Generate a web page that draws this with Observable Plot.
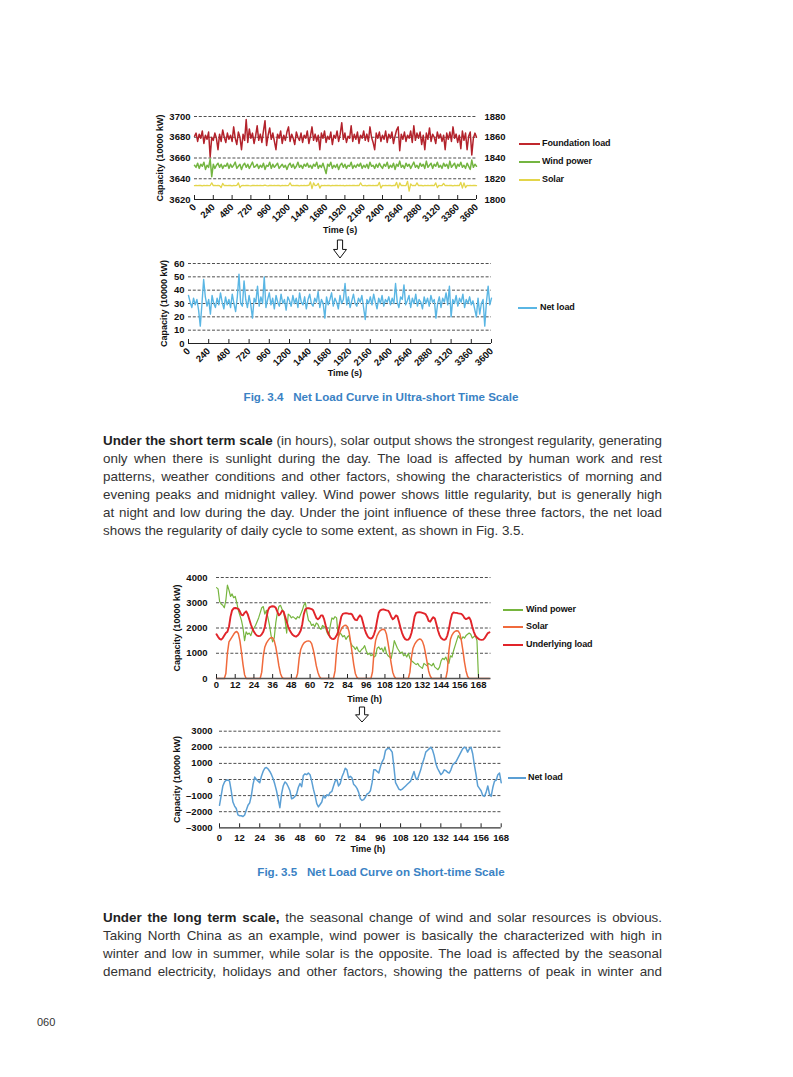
<!DOCTYPE html>
<html><head><meta charset="utf-8">
<script src="https://cdn.jsdelivr.net/npm/d3@7"></script>
<script src="https://cdn.jsdelivr.net/npm/@observablehq/plot@0.6"></script>
<style>
body{margin:0;background:#fff;}
#page{position:relative;width:793px;height:1077px;overflow:hidden;background:#fff;font-family:"Liberation Sans",Arial,sans-serif;}
.abs{position:absolute;}
.para{position:absolute;left:103px;width:559px;font-size:13.4px;color:#333;line-height:18px;}
.para div{text-align:justify;text-align-last:justify;height:18px;}
.para div.last{text-align-last:left;}
.para b{font-weight:bold;color:#222;}
.cap{position:absolute;left:181px;width:400px;text-align:center;font-size:11.6px;font-weight:bold;color:#3a82c4;white-space:nowrap;}
.leg{position:absolute;font-size:9px;font-weight:bold;color:#111;white-space:nowrap;letter-spacing:-0.1px;}
.legline{position:absolute;}
</style></head>
<body><div id="page"></div>
<script>
// ---------------- DATA ----------------
// Fig 3.4 (ultra-short, 20 s sampling)
const secTicks = [0,240,480,720,960,1200,1440,1680,1920,2160,2400,2640,2880,3120,3360,3600];
const leftTicksU = [3620,3640,3660,3680,3700];
const rightTicksU = [1800,1820,1840,1860,1880];
const netTicksU = [0,10,20,30,40,50,60];
const foundationLoad = [
3681,3684,3676,3683,3679,3686,3674,3682,3678,3685,3661,3680,3677,3684,3679,3668,3683,3676,3687,3680,
3675,3684,3678,3682,3676,3690,3679,3673,3685,3680,3668,3683,3677,3697,3675,3688,3679,3684,3674,3681,
3691,3677,3683,3675,3686,3696,3672,3682,3689,3678,3684,3676,3668,3683,3679,3686,3674,3682,3677,3685,
3690,3676,3683,3679,3673,3685,3680,3677,3684,3675,3682,3679,3686,3674,3681,3690,3677,3683,3676,3682,
3668,3684,3679,3686,3675,3681,3678,3685,3673,3682,3679,3686,3676,3683,3694,3678,3684,3675,3681,3679,
3691,3676,3683,3678,3685,3674,3682,3679,3686,3677,3683,3676,3690,3680,3675,3668,3684,3679,3685,3676,
3682,3678,3686,3675,3683,3679,3685,3674,3681,3687,3690,3667,3683,3678,3685,3676,3682,3679,3686,3675,
3691,3677,3684,3679,3685,3673,3682,3668,3684,3678,3689,3676,3683,3680,3674,3685,3679,3683,3676,3682,
3668,3684,3678,3685,3676,3690,3679,3683,3675,3682,3669,3686,3677,3684,3668,3681,3685,3663,3679,3684,3680];
const windPowerU = [ // right axis
1833,1831,1835,1830,1834,1832,1836,1829,1833,1831,1839,1822,1834,1830,1833,1835,1831,1834,1830,1833,
1832,1835,1830,1834,1831,1833,1836,1830,1832,1834,1829,1833,1835,1831,1834,1830,1833,1836,1831,1832,
1834,1830,1833,1831,1835,1829,1833,1832,1836,1830,1834,1831,1833,1835,1830,1832,1834,1831,1833,1829,
1833,1835,1831,1834,1830,1832,1836,1831,1833,1830,1834,1832,1835,1831,1833,1830,1834,1832,1836,1830,
1833,1831,1835,1830,1825,1834,1832,1836,1830,1833,1831,1834,1829,1833,1835,1831,1834,1830,1833,1832,
1836,1830,1833,1831,1834,1832,1835,1830,1833,1831,1834,1830,1836,1832,1833,1830,1834,1831,1835,1832,
1830,1834,1832,1836,1830,1833,1831,1835,1829,1834,1832,1837,1831,1833,1830,1835,1832,1834,1830,1833,
1836,1831,1833,1830,1835,1832,1834,1830,1837,1831,1833,1835,1830,1834,1832,1836,1831,1833,1830,1835,
1832,1834,1830,1837,1831,1833,1835,1830,1834,1832,1836,1831,1833,1830,1835,1832,1829,1838,1831,1834,1832];
const solarU = [ // right axis
1813.4,1813.7,1813.3,1813.6,1813.5,1813.2,1813.7,1813.4,1813.6,1813.3,1813.5,1816,1813.4,1813.6,1813.3,1813.7,1813.4,1811.5,1815.5,1813.4,
1813.6,1813.3,1813.7,1813.5,1813.2,1813.6,1813.4,1813.7,1816,1811.5,1813.4,1813.6,1813.3,1813.5,1813.7,1813.4,1813.2,1813.6,1813.5,1813.3,
1813.7,1813.4,1813.6,1813.3,1813.5,1813.8,1813.4,1813.2,1813.6,1813.5,1813.3,1813.7,1813.4,1813.6,1813.5,1813.2,1813.7,1813.4,1813.6,1813.3,
1813.5,1816,1813.3,1813.6,1813.4,1813.7,1813.5,1813.2,1813.6,1813.4,1813.7,1813.3,1813.5,1813.6,1817,1810.5,1816,1813.4,1813.6,1815.5,
1811,1813.6,1813.4,1813.7,1813.3,1813.5,1813.6,1813.2,1813.7,1813.4,1813.5,1813.6,1813.3,1813.7,1813.4,1813.5,1813.2,1813.6,1813.4,1813.7,
1813.3,1813.5,1813.6,1813.4,1813.7,1813.3,1816,1813.5,1813.4,1813.6,1813.2,1813.7,1813.5,1813.3,1813.6,1813.4,1813.7,1813.5,1816.5,1811,
1813.6,1813.4,1813.7,1813.3,1813.5,1813.6,1813.2,1813.7,1813.4,1816.5,1811,1816,1813.4,1813.6,1813.3,1813.5,1817.5,1808,1815,1813.4,
1813.6,1813.3,1816,1813.4,1813.7,1813.5,1813.2,1813.6,1813.4,1813.7,1813.3,1813.5,1813.6,1813.4,1816,1811.5,1813.6,1813.3,1813.5,1815.5,
1813.4,1813.6,1813.3,1813.7,1813.5,1813.2,1813.6,1813.4,1813.7,1813.3,1816.5,1811,1816,1811.5,1813.6,1813.4,1813.7,1813.3,1813.5,1813.6,1813.4];
const netLoadU = [
36,31,27,34,29,33,25,13,30,48,35,28,33,22,36,30,27,34,29,38,
31,26,35,29,33,27,37,30,24,35,52,30,28,47,33,27,36,29,19,34,
31,43,28,35,30,50,27,33,38,29,34,26,36,31,28,37,30,33,25,35,
32,28,36,30,34,27,38,31,29,35,26,33,37,30,28,34,31,39,27,33,
30,19,35,29,33,38,28,34,31,26,36,30,33,45,29,35,27,32,37,30,
28,34,31,36,27,18,33,30,35,29,37,31,26,34,30,36,28,33,31,35,
29,34,30,45,31,27,35,33,44,29,32,36,27,34,30,37,28,33,31,26,
35,30,34,28,36,31,33,19,30,35,27,34,31,38,29,43,20,33,30,36,
28,34,31,37,27,33,30,35,29,32,26,20,34,22,30,33,13,31,43,29,34];

// Fig 3.5 (short-term, hourly)
const hourTicks = [0,12,24,36,48,60,72,84,96,108,120,132,144,156,168];
const capTicksS = [0,1000,2000,3000,4000];
const netTicksS = [-3000,-2000,-1000,0,1000,2000,3000];
const underlyingLoad = [
1750,1650,1570,1540,1600,1700,1800,1850,2050,2450,2700,2780,2790,2780,2760,2650,2520,2500,2600,2660,
2550,2350,2150,1980,1850,1760,1700,1680,1690,1750,1850,2050,2400,2700,2820,2850,2860,2850,2800,2650,
2500,2560,2680,2650,2450,2250,2050,1900,1800,1720,1680,1660,1700,1780,1900,2150,2550,2740,2780,2780,
2770,2750,2700,2550,2400,2350,2400,2500,2500,2350,2100,1900,1750,1620,1570,1560,1600,1700,1850,2150,
2450,2560,2580,2590,2580,2560,2570,2530,2400,2320,2310,2420,2500,2430,2200,1950,1780,1660,1600,1580,
1620,1750,1950,2300,2600,2700,2730,2740,2720,2700,2690,2600,2450,2350,2400,2500,2460,2250,2000,1800,
1650,1560,1530,1540,1620,1800,2100,2450,2600,2620,2630,2620,2600,2580,2550,2450,2280,2250,2350,2430,
2380,2150,1900,1720,1600,1550,1530,1560,1700,1950,2300,2550,2620,2600,2600,2580,2570,2560,2500,2400,
2350,2380,2420,2300,2050,1850,1700,1620,1570,1540,1530,1540,1600,1700,1800,1830];
const solarS = [
0,0,0,0,0,0,200,1000,1450,1550,1650,1750,1830,1860,1780,1500,1050,550,150,0,
0,0,0,0,0,0,0,0,0,250,900,1250,1400,1500,1580,1620,1610,1500,1250,900,
500,200,50,0,0,0,0,0,0,0,0,0,200,800,1150,1300,1400,1450,1480,1490,
1470,1380,1150,850,500,250,80,0,0,0,0,0,0,0,0,0,300,1100,1600,1800,
1950,2050,2100,2110,2050,1850,1450,1000,550,200,50,0,0,0,0,0,0,0,0,0,
250,1050,1500,1700,1820,1900,1940,1950,1920,1750,1400,1000,600,250,80,0,0,0,0,0,
0,0,0,0,250,850,1200,1350,1450,1520,1560,1550,1480,1300,1000,650,300,100,0,0,
0,0,0,0,0,0,0,0,300,1100,1550,1720,1820,1870,1890,1880,1780,1500,1100,650,
300,80,0,0,0,0,0,0,0,0,0,0,0,0,0,0];
const windPowerS = [
3600,3550,3050,2950,2900,2800,3100,3700,3500,3250,3350,3200,3250,3000,2700,2500,2300,2000,1500,1850,
1750,1800,1700,1900,2000,2100,2250,2400,2600,2800,2850,2550,2700,2400,2100,1700,1450,1600,2200,2600,
2850,2900,2750,2650,2300,1800,2550,2500,2400,2450,2400,2350,2450,2400,2550,2700,2900,3000,2600,2300,
2250,2100,2150,2050,2200,2150,2000,1950,2100,2050,2000,1800,1700,2100,2400,2350,2450,2400,1700,1800,
1750,1650,1700,1550,1650,1700,1400,1300,1250,1150,1250,1100,1050,1150,1200,1300,1100,950,1000,900,
950,850,900,1200,1250,1150,1200,1050,1250,1000,900,850,800,1100,1500,1350,1200,1100,1000,1050,
900,950,850,1000,800,700,650,600,550,600,500,450,400,600,550,500,600,550,500,600,
450,400,350,450,700,800,750,850,700,600,900,850,1100,1300,1500,1700,1600,1550,1650,1600,
1700,1750,1800,1750,1600,1650,1700,1500,0];
const netLoadS = [
-1600,-1000,-400,-150,-50,-30,-100,-700,-1400,-1650,-1800,-2200,-2250,-2250,-2300,-2200,-1900,-1600,-1450,-1000,
-300,150,0,-100,-200,200,500,700,750,650,500,300,50,-300,-700,-1200,-1750,-900,-400,-150,
-250,-450,-700,-1200,-1150,-1050,-900,-500,-250,-450,250,350,300,400,300,-100,-600,-1000,-1500,-1700,
-1550,-1400,-1000,-1150,-950,-1000,-800,-750,-400,-100,0,-400,-250,150,400,700,600,100,200,100,
-300,-400,-550,-800,-1200,-1300,-1250,-1100,-900,-850,-700,-200,600,600,500,400,800,1100,1300,1800,
1900,1950,1850,1700,800,-200,-400,-600,-650,-600,-500,-400,-300,-200,-100,200,500,100,0,300,
600,1000,1300,1700,1800,1900,2000,1850,1500,1000,700,500,300,400,600,550,450,400,600,900,
1000,1100,1300,1500,1700,1900,2000,1950,1700,1900,2000,1600,900,300,-400,-550,-700,-1000,-1050,-800,
-400,-900,-1050,-500,-100,-50,300,400,-200];

// ---------------- HELPERS ----------------
const FONT = "'Liberation Sans', Arial, sans-serif";
const page = document.getElementById("page");
const axisStyle = {fontFamily: FONT, fontSize: "9.5px", fontWeight: "bold", color: "#111", background: "transparent", overflow: "visible"};
const GRID = {stroke: "#222", strokeWidth: 0.8, strokeDasharray: "3,1.8"};
const fmt = d => d < 0 ? "\u2013" + Math.abs(d) : String(d);
function place(el, left, top) {
  const w = document.createElement("div");
  w.className = "abs"; w.style.left = left + "px"; w.style.top = top + "px";
  w.appendChild(el); page.appendChild(w);
}
function upTick(domain, plotPx, px) { return (domain[1] - domain[0]) / plotPx * px; }
function legend(x1, x2, xt, items) {
  for (const it of items) {
    const l = document.createElement("div");
    l.className = "legline";
    l.style.left = x1 + "px"; l.style.width = (x2 - x1) + "px";
    l.style.top = (it.y - it.w / 2) + "px"; l.style.height = it.w + "px";
    l.style.background = it.color;
    page.appendChild(l);
    const t = document.createElement("div");
    t.className = "leg"; t.textContent = it.label;
    t.style.left = xt + "px"; t.style.top = (it.y - 6) + "px";
    page.appendChild(t);
  }
}
function arrow(cx, top, bottom) {
  const ns = "http://www.w3.org/2000/svg";
  const s = document.createElementNS(ns, "svg");
  s.setAttribute("width", 16); s.setAttribute("height", bottom - top + 2);
  s.style.position = "absolute"; s.style.left = (cx - 8) + "px"; s.style.top = (top - 1) + "px";
  const h = bottom - top, hw = 6.5, sw = 2.6, headY = h * 0.55;
  const p = document.createElementNS(ns, "path");
  p.setAttribute("d", `M${8 - sw},1 L${8 + sw},1 L${8 + sw},${headY} L${8 + hw},${headY} L8,${h} L${8 - hw},${headY} L${8 - sw},${headY} Z`);
  p.setAttribute("fill", "#fff"); p.setAttribute("stroke", "#111"); p.setAttribute("stroke-width", "1");
  s.appendChild(p); page.appendChild(s);
}
const yTitle = (dx) => Plot.text(["Capacity (10000 kW)"], {frameAnchor: "left", rotate: -90, dx, textAnchor: "middle", fontSize: 9, fontWeight: "bold"});

// ---------------- FIG 3.4 top ----------------
{
  const t = d3.range(0, 3601, 20);
  const offset = leftTicksU[0] - rightTicksU[0];
  const rows = t.map((x, i) => ({t: x, found: foundationLoad[i], wind: windPowerU[i] + offset, solar: solarU[i] + offset}));
  const yd = [leftTicksU[0], leftTicksU[leftTicksU.length - 1]];
  const H = 140, mt = 16, mb = 41;
  const chart = Plot.plot({
    width: 360, height: H, marginLeft: 44, marginRight: 34, marginTop: mt, marginBottom: mb,
    style: axisStyle,
    x: {domain: [0, 3600]}, y: {domain: yd},
    marks: [
      Plot.ruleY(leftTicksU.slice(1), {...GRID, x1: 0, x2: 3600}),
      Plot.line(rows, {x: "t", y: "solar", stroke: "#e3d54a", strokeWidth: 1.3}),
      Plot.line(rows, {x: "t", y: "wind", stroke: "#74b541", strokeWidth: 1.5}),
      Plot.line(rows, {x: "t", y: "found", stroke: "#b3222b", strokeWidth: 1.5}),
      Plot.ruleY([yd[0]], {stroke: "#222", strokeWidth: 1}),
      Plot.ruleX(secTicks, {y1: yd[0], y2: yd[0] + upTick(yd, H - mt - mb, 4), stroke: "#222", strokeWidth: 1}),
      Plot.axisY(leftTicksU, {anchor: "left", tickSize: 0, tickPadding: 4, tickFormat: fmt, label: null}),
      Plot.axisY(leftTicksU, {anchor: "right", tickSize: 0, tickPadding: 8, tickFormat: d => fmt(d - offset), label: null}),
      Plot.axisX(secTicks, {anchor: "bottom", tickSize: 0, tickPadding: 6, tickRotate: -45, tickFormat: fmt, label: null}),
      Plot.text(["Time (s)"], {x: 1860, frameAnchor: "bottom", dy: 33, fontSize: 9, fontWeight: "bold"}),
      yTitle(-34)
    ]
  });
  place(chart, 150, 100);
  legend(519, 540, 542, [
    {label: "Foundation load", color: "#c0272d", w: 1.5, y: 144},
    {label: "Wind power", color: "#74b541", w: 1.5, y: 162},
    {label: "Solar", color: "#e3d54a", w: 1.5, y: 180}
  ]);
}
arrow(340, 240, 259);

// ---------------- FIG 3.4 bottom ----------------
{
  const t = d3.range(0, 3601, 20);
  const rows = t.map((x, i) => ({t: x, v: netLoadU[i]}));
  const yd = [netTicksU[0], netTicksU[netTicksU.length - 1]];
  const H = 145, mt = 18, mb = 47;
  const chart = Plot.plot({
    width: 360, height: H, marginLeft: 38, marginRight: 19, marginTop: mt, marginBottom: mb,
    style: axisStyle,
    x: {domain: [0, 3600]}, y: {domain: yd},
    marks: [
      Plot.ruleY(netTicksU.slice(1), {...GRID, x1: 0, x2: 3600}),
      Plot.line(rows, {x: "t", y: "v", stroke: "#5ab6e4", strokeWidth: 1.4}),
      Plot.ruleY([yd[0]], {stroke: "#222", strokeWidth: 1}),
      Plot.ruleX(secTicks, {y1: yd[0], y2: yd[0] + upTick(yd, H - mt - mb, 4), stroke: "#222", strokeWidth: 1}),
      Plot.axisY(netTicksU, {anchor: "left", tickSize: 0, tickPadding: 4, tickFormat: fmt, label: null}),
      Plot.axisX(secTicks, {anchor: "bottom", tickSize: 0, tickPadding: 6, tickRotate: -45, tickFormat: fmt, label: null}),
      Plot.text(["Time (s)"], {x: 1857, frameAnchor: "bottom", dy: 32, fontSize: 9, fontWeight: "bold"}),
      yTitle(-24)
    ]
  });
  place(chart, 150, 245);
  legend(518, 537, 540, [{label: "Net load", color: "#5ab6e4", w: 1.5, y: 308}]);
}

// ---------------- FIG 3.5 top ----------------
{
  const hrs = d3.range(0, underlyingLoad.length);
  const load = hrs.map(h => ({h, v: underlyingLoad[h]}));
  const sol = d3.range(0, solarS.length).map(h => ({h, v: solarS[h]}));
  const wnd = d3.range(0, windPowerS.length).map(h => ({h, v: windPowerS[h]}));
  const yd = [capTicksS[0], capTicksS[capTicksS.length - 1]];
  const H = 140, mt = 12, mb = 27;
  const xd = [0, 176];
  const chart = Plot.plot({
    width: 350, height: H, marginLeft: 66, marginRight: 9.5, marginTop: mt, marginBottom: mb,
    style: axisStyle,
    x: {domain: xd}, y: {domain: yd},
    marks: [
      Plot.ruleY(capTicksS.slice(1), {...GRID, x1: xd[0], x2: xd[1]}),
      Plot.line(wnd, {x: "h", y: "v", stroke: "#76b53e", strokeWidth: 1.2}),
      Plot.line(sol, {x: "h", y: "v", stroke: "#f06a3c", strokeWidth: 1.5}),
      Plot.line(load, {x: "h", y: "v", stroke: "#e1242a", strokeWidth: 1.9}),
      Plot.ruleY([yd[0]], {x1: xd[0], x2: xd[1], stroke: "#555", strokeWidth: 1.4}),
      Plot.ruleX(hourTicks, {y1: yd[0], y2: yd[0] + upTick(yd, H - mt - mb, 4), stroke: "#222", strokeWidth: 1}),
      Plot.axisY(capTicksS, {anchor: "left", tickSize: 0, tickPadding: 9, tickFormat: fmt, label: null}),
      Plot.axisX(hourTicks, {anchor: "bottom", tickSize: 0, tickPadding: 3, tickFormat: fmt, label: null}),
      Plot.text(["Time (h)"], {x: 95, frameAnchor: "bottom", dy: 23, fontSize: 9, fontWeight: "bold"}),
      yTitle(-39)
    ]
  });
  place(chart, 150, 565);
  legend(503, 523, 526, [
    {label: "Wind power", color: "#76b53e", w: 1.4, y: 610},
    {label: "Solar", color: "#f06a3c", w: 1.6, y: 627},
    {label: "Underlying load", color: "#e1242a", w: 2, y: 645}
  ]);
}
arrow(362, 707, 723);

// ---------------- FIG 3.5 bottom ----------------
{
  const rows = d3.range(0, netLoadS.length).map(h => ({h, v: netLoadS[h]}));
  const yd = [netTicksS[0], netTicksS[netTicksS.length - 1]];
  const H = 145, mt = 15.7, mb = 32.7;
  const xd = [0, 168];
  const chart = Plot.plot({
    width: 360, height: H, marginLeft: 69, marginRight: 9.3, marginTop: mt, marginBottom: mb,
    style: axisStyle,
    x: {domain: xd}, y: {domain: yd},
    marks: [
      Plot.ruleY(netTicksS.slice(1), {...GRID, x1: xd[0], x2: xd[1]}),
      Plot.line(rows, {x: "h", y: "v", stroke: "#5b9fd4", strokeWidth: 1.5}),
      Plot.ruleY([yd[0]], {x1: xd[0], x2: xd[1], stroke: "#333", strokeWidth: 1.2}),
      Plot.ruleX(hourTicks, {y1: yd[0], y2: yd[0] + upTick(yd, H - mt - mb, 4), stroke: "#222", strokeWidth: 1}),
      Plot.axisY(netTicksS, {anchor: "left", tickSize: 0, tickPadding: 7, tickFormat: fmt, label: null}),
      Plot.axisX(hourTicks, {anchor: "bottom", tickSize: 0, tickPadding: 6, tickFormat: fmt, label: null}),
      Plot.text(["Time (h)"], {x: 88.5, frameAnchor: "bottom", dy: 24, fontSize: 9, fontWeight: "bold"}),
      yTitle(-42)
    ]
  });
  place(chart, 150, 715);
  legend(508, 526, 528, [{label: "Net load", color: "#5b9fd4", w: 1.5, y: 778}]);
}

// ---------------- TEXT ----------------
function addHTML(html) { const d = document.createElement("div"); d.innerHTML = html; page.appendChild(d.firstElementChild); }
addHTML(`<div class="cap" style="top:390px">Fig. 3.4&nbsp;&nbsp;&nbsp;Net Load Curve in Ultra-short Time Scale</div>`);
addHTML(`<div class="cap" style="top:865px">Fig. 3.5&nbsp;&nbsp;&nbsp;Net Load Curve on Short-time Scale</div>`);
addHTML(`<div class="para" style="top:432px">
<div><b>Under the short term scale</b> (in hours), solar output shows the strongest regularity, generating</div>
<div>only when there is sunlight during the day. The load is affected by human work and rest</div>
<div>patterns, weather conditions and other factors, showing the characteristics of morning and</div>
<div>evening peaks and midnight valley. Wind power shows little regularity, but is generally high</div>
<div>at night and low during the day. Under the joint influence of these three factors, the net load</div>
<div class="last">shows the regularity of daily cycle to some extent, as shown in Fig. 3.5.</div>
</div>`);
addHTML(`<div class="para" style="top:909px">
<div><b>Under the long term scale,</b> the seasonal change of wind and solar resources is obvious.</div>
<div>Taking North China as an example, wind power is basically the characterized with high in</div>
<div>winter and low in summer, while solar is the opposite. The load is affected by the seasonal</div>
<div>demand electricity, holidays and other factors, showing the patterns of peak in winter and</div>
</div>`);
addHTML(`<div class="abs" style="left:37px;top:1016px;font-size:11px;color:#333;">060</div>`);
</script>
</body></html>
